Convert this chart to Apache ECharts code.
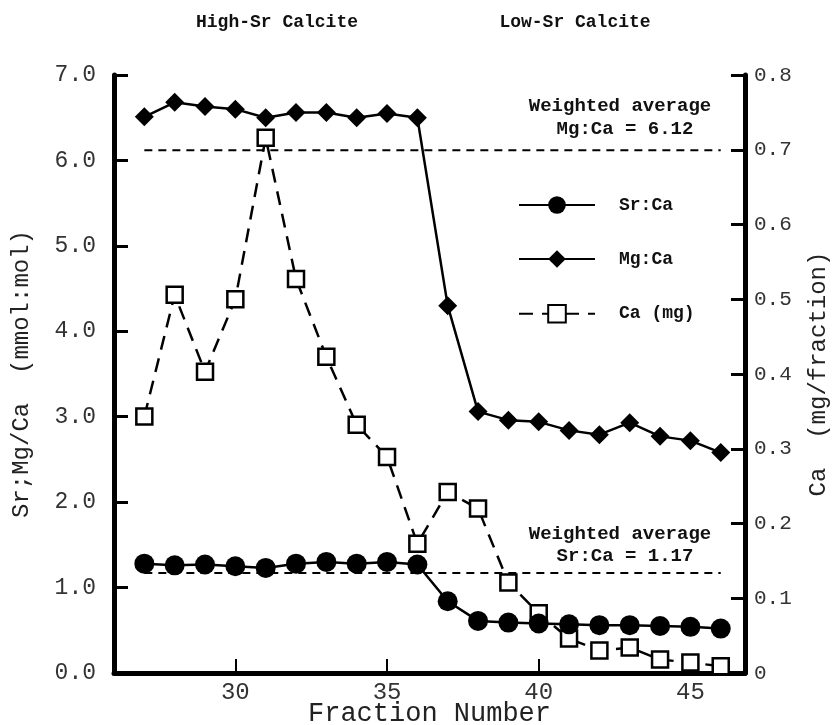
<!DOCTYPE html>
<html>
<head>
<meta charset="utf-8">
<script src="https://cdn.jsdelivr.net/npm/echarts@6/dist/echarts.min.js"></script>
<style>
html,body{margin:0;padding:0;background:#fff;}
#chart{width:838px;height:725px;}
</style>
</head>
<body>
<div id="chart"></div>
<script>
// ---- data ----
const fractions = [27,28,29,30,31,32,33,34,35,36,37,38,39,40,41,42,43,44,45,46];
const srCa = [1.28,1.26,1.27,1.25,1.23,1.28,1.30,1.28,1.30,1.27,0.84,0.61,0.59,0.58,0.57,0.56,0.56,0.55,0.54,0.52];
const mgCa = [6.51,6.68,6.63,6.60,6.50,6.56,6.56,6.50,6.55,6.50,4.30,3.06,2.96,2.94,2.84,2.79,2.93,2.77,2.72,2.58];
const caMg = [0.343,0.506,0.403,0.500,0.716,0.527,0.423,0.332,0.289,0.173,0.242,0.220,0.121,0.080,0.046,0.030,0.034,0.018,0.014,0.009];
const avgRange = [27,46];
const avgMg = 6.12;
const avgSr = 1.17;
const leftTicks = [0,1,2,3,4,5,6,7];
const rightTicks = [0,0.1,0.2,0.3,0.4,0.5,0.6,0.7,0.8];
const seriesNames = ['Sr:Ca','Mg:Ca','Ca (mg)'];

const pair = (xs, ys) => xs.map((x,i)=>[x, ys[i]]);
const FONT = '"Liberation Mono", "DejaVu Sans Mono", monospace';
const INK = '#000';

const chart = echarts.init(document.getElementById('chart'), null, {renderer:'canvas'});
chart.setOption({
  animation:false,
  backgroundColor:'#fff',
  grid:{left:114, right:93, top:75, bottom:52, containLabel:false, outerBoundsMode:'none'},
  legend:{
    orient:'vertical', left:518, top:196, padding:0,
    itemWidth:76, itemHeight:22, itemGap:36,
    data:seriesNames,
    textStyle:{fontFamily:FONT, fontSize:18, fontWeight:'bold', color:'#111', padding:[0,0,0,19]}
  },
  xAxis:{
    type:'value', min:26, max:46.8, splitNumber:4,
    name:'Fraction Number', nameLocation:'middle', nameGap:27, nameMoveOverlap:false,
    nameTextStyle:{fontFamily:FONT, fontSize:27, color:'#222'},
    axisLine:{show:true, onZero:false, lineStyle:{color:INK, width:5}},
    axisTick:{show:true, inside:true, length:14, lineStyle:{color:INK, width:2}},
    axisLabel:{fontFamily:FONT, fontSize:24, color:'#333', margin:8,
      formatter:v => (Math.abs(v % 5) < 1e-9 ? String(v) : '')},
    splitLine:{show:false}
  },
  yAxis:[
    {
      type:'value', min:0, max:7, interval:1, position:'left',
      name:'Sr;Mg/Ca  (mmol:mol)', nameLocation:'middle', nameGap:80, nameRotate:90, nameMoveOverlap:false,
      nameTextStyle:{fontFamily:FONT, fontSize:24, color:'#222'},
      axisLine:{show:true, lineStyle:{color:INK, width:5}},
      axisTick:{show:true, inside:true, length:14, lineStyle:{color:INK, width:3}},
      axisLabel:{fontFamily:FONT, fontSize:23, color:'#333', margin:18,
        formatter:v => leftTicks.includes(v) ? v.toFixed(1) : ''},
      splitLine:{show:false}
    },
    {
      type:'value', min:0, max:0.8, interval:0.1, position:'right',
      name:'Ca  (mg/fraction)', nameLocation:'middle', nameGap:62, nameRotate:90, nameMoveOverlap:false,
      nameTextStyle:{fontFamily:FONT, fontSize:24, color:'#222'},
      axisLine:{show:true, lineStyle:{color:INK, width:5}},
      axisTick:{show:true, inside:true, length:14, lineStyle:{color:INK, width:3}},
      axisLabel:{fontFamily:FONT, fontSize:21, color:'#333', margin:9,
        formatter:v => { const r = rightTicks.find(t => Math.abs(t-v) < 1e-9); return r === undefined ? '' : (r === 0 ? '0' : r.toFixed(1)); }},
      splitLine:{show:false}
    }
  ],
  series:[
    {
      name:'Mg:Ca avg', type:'line', yAxisIndex:0, symbol:'none', silent:true,
      data:pair(avgRange, [avgMg, avgMg]),
      lineStyle:{color:INK, width:2, type:[8,6]}, z:1
    },
    {
      name:'Sr:Ca avg', type:'line', yAxisIndex:0, symbol:'none', silent:true,
      data:pair(avgRange, [avgSr, avgSr]),
      lineStyle:{color:INK, width:2, type:[8,6]}, z:1
    },
    {
      name:'Ca (mg)', type:'line', yAxisIndex:1, symbol:'rect', symbolSize:16,
      data:pair(fractions, caMg),
      lineStyle:{color:INK, width:2.5, type:[14,9]},
      itemStyle:{color:'#fff', borderColor:INK, borderWidth:2.5}, z:2
    },
    {
      name:'Mg:Ca', type:'line', yAxisIndex:0, symbol:'diamond', symbolSize:19,
      data:pair(fractions, mgCa),
      lineStyle:{color:INK, width:2.5},
      itemStyle:{color:INK}, z:3
    },
    {
      name:'Sr:Ca', type:'line', yAxisIndex:0, symbol:'circle', symbolSize:20,
      data:pair(fractions, srCa),
      lineStyle:{color:INK, width:2.5},
      itemStyle:{color:INK}, z:4
    }
  ],
  graphic:[
    {type:'text', position:[277,22], style:{text:'High-Sr Calcite', x:0, y:0, align:'center', verticalAlign:'middle', font:'bold 18px '+FONT, fill:'#111'}},
    {type:'text', position:[575,22], style:{text:'Low-Sr Calcite', x:0, y:0, align:'center', verticalAlign:'middle', font:'bold 18px '+FONT, fill:'#111'}},
    {type:'text', position:[620,106], style:{text:'Weighted average', x:0, y:0, align:'center', verticalAlign:'middle', font:'bold 19px '+FONT, fill:'#111'}},
    {type:'text', position:[625,129], style:{text:'Mg:Ca = 6.12', x:0, y:0, align:'center', verticalAlign:'middle', font:'bold 19px '+FONT, fill:'#111'}},
    {type:'text', position:[620,534], style:{text:'Weighted average', x:0, y:0, align:'center', verticalAlign:'middle', font:'bold 19px '+FONT, fill:'#111'}},
    {type:'text', position:[625,556], style:{text:'Sr:Ca = 1.17', x:0, y:0, align:'center', verticalAlign:'middle', font:'bold 19px '+FONT, fill:'#111'}}
  ]
});
</script>
</body>
</html>
